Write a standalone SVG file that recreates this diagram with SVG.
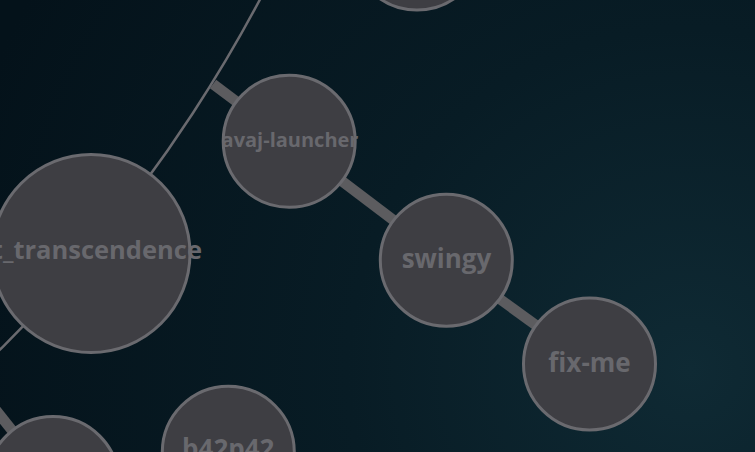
<svg xmlns="http://www.w3.org/2000/svg" width="755" height="452" viewBox="0 0 755 452">
  <defs>
    <radialGradient id="bg" gradientUnits="userSpaceOnUse" cx="690" cy="370" r="760">
      <stop offset="0" stop-color="#0f2a34"/>
      <stop offset="0.45" stop-color="#081c25"/>
      <stop offset="1" stop-color="#04121a"/>
    </radialGradient>
    <style>
      .node circle { fill: #3e3e43; stroke: #6a6a6f; stroke-width: 3; }
      .node text { font-family: "Open Sans", "Noto Sans", "Liberation Sans", sans-serif; font-weight: 700; fill: #68686d; text-anchor: middle; }
      .link { stroke: #5c5c5f; stroke-width: 10.5; fill: none; }
      .arc { stroke: #6a6a6f; stroke-width: 2.5; fill: none; }
    </style>
  </defs>
  <rect x="0" y="0" width="755" height="452" fill="url(#bg)"/>
  <g id="connectors">
    <circle class="arc" cx="-1021" cy="-680" r="1450"/>
    <line class="link" x1="213" y1="84" x2="289" y2="141"/>
    <line class="link" x1="289" y1="141" x2="446" y2="260"/>
    <line class="link" x1="446" y1="260" x2="589.5" y2="364"/>
    <line class="link" x1="-20" y1="390" x2="53" y2="482"/>
  </g>
  <g id="node-top" class="node">
    <circle cx="417" cy="-56" r="66"/>
  </g>
  <g id="node-ft_transcendence" class="node">
    <circle cx="91" cy="253.5" r="99"/>
    <text x="92" y="258.5" font-size="25.5">ft_transcendence</text>
  </g>
  <g id="node-avaj-launcher" class="node">
    <circle cx="289.2" cy="141.3" r="66"/>
    <text x="290" y="147.3" font-size="20">avaj-launcher</text>
  </g>
  <g id="node-swingy" class="node">
    <circle cx="446.3" cy="260.2" r="66"/>
    <text x="446.5" y="267.5" font-size="26">swingy</text>
  </g>
  <g id="node-fix-me" class="node">
    <circle cx="589.5" cy="364" r="66"/>
    <text x="589.5" y="372" font-size="26">fix-me</text>
  </g>
  <g id="node-bottom-left" class="node">
    <circle cx="53" cy="482.5" r="66"/>
  </g>
  <g id="node-b42p42" class="node">
    <circle cx="228.3" cy="452.2" r="66"/>
    <text x="228.3" y="458" font-size="26">b42p42</text>
  </g>
</svg>
